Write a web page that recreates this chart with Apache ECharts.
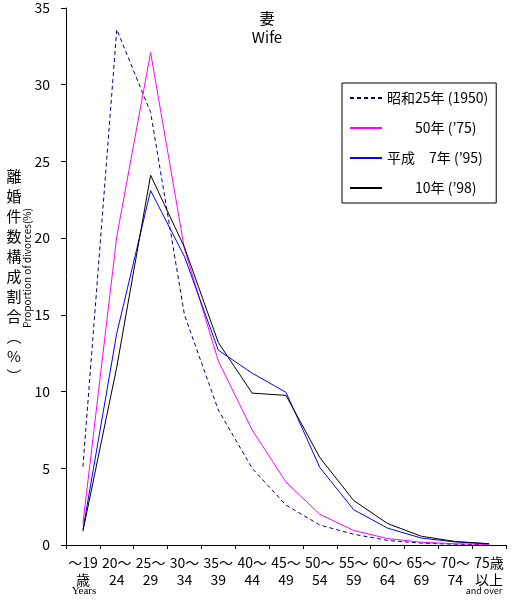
<!DOCTYPE html>
<html>
<head>
<meta charset="utf-8">
<script src="https://cdn.jsdelivr.net/npm/echarts@6/dist/echarts.min.js"></script>
<style>
html,body{margin:0;padding:0;background:#fff;}
#chart{width:518px;height:602px;}
</style>
</head>
<body>
<div id="chart"></div>
<script>
const categories = ['～19\n歳','20～\n24','25～\n29','30～\n34','35～\n39','40～\n44','45～\n49','50～\n54','55～\n59','60～\n64','65～\n69','70～\n74','75歳\n以上'];
const seriesNames = ['昭和25年 (1950)', '　　50年 (’75)', '平成　7年 (’95)', '　　10年 (’98)'];
const s1950 = [5.1, 33.6, 28.2, 15.0, 8.8, 5.0, 2.6, 1.3, 0.7, 0.3, 0.12, 0.05, 0.02];
const s1975 = [1.4, 20.1, 32.1, 19.3, 12.0, 7.5, 4.1, 2.0, 0.95, 0.42, 0.18, 0.08, 0.04];
const s1995 = [1.0, 13.8, 23.1, 18.8, 12.7, 11.2, 9.95, 5.05, 2.3, 1.1, 0.45, 0.2, 0.08];
const s1998 = [0.9, 11.6, 24.1, 19.4, 13.2, 9.9, 9.75, 5.7, 2.9, 1.4, 0.57, 0.23, 0.08];
const yTicks = [0, 5, 10, 15, 20, 25, 30, 35];

const FONT = '"Noto Sans CJK JP", "Noto Sans", sans-serif';
const chart = echarts.init(document.getElementById('chart'), null, {renderer: 'canvas'});

function mk(name, data, color, type) {
  return {
    name: name, type: 'line', data: data, symbol: 'none', smooth: false,
    lineStyle: {color: color, width: 1, type: type},
    itemStyle: {color: color},
    animation: false
  };
}

chart.setOption({
  animation: false,
  backgroundColor: '#fff',
  textStyle: {fontFamily: FONT, color: '#000'},
  title: {
    text: '妻', subtext: 'Wife', left: 262, top: 6, textAlign: 'center', itemGap: 4,
    textStyle: {fontFamily: FONT, fontSize: 15, fontWeight: 'normal', color: '#000'},
    subtextStyle: {fontFamily: FONT, fontSize: 15, color: '#000'}
  },
  legend: {
    orient: 'vertical', left: 342, top: 83,
    padding: [8, 8, 8, 7],
    borderColor: '#000', borderWidth: 1,
    itemWidth: 32, itemHeight: 14, itemGap: 16,
    itemStyle: {opacity: 0},
    textStyle: {fontFamily: FONT, fontSize: 14, color: '#000'},
    data: seriesNames
  },
  grid: {left: 66, right: 12, top: 8, bottom: 57, containLabel: false},
  xAxis: {
    type: 'category', data: categories, boundaryGap: true,
    axisLine: {lineStyle: {color: '#000', width: 1}},
    axisTick: {show: true, length: 4, lineStyle: {color: '#000'}, interval: 0},
    axisLabel: {interval: 0, fontFamily: FONT, fontSize: 14, lineHeight: 17, color: '#000', margin: 9}
  },
  yAxis: {
    type: 'value', min: yTicks[0], max: yTicks[yTicks.length - 1], interval: 5,
    name: '離\n婚\n件\n数\n構\n成\n割\n合\n︵\n%\n︶',
    nameLocation: 'middle', nameRotate: 0, nameGap: 52,
    nameTextStyle: {fontFamily: FONT, fontSize: 15, lineHeight: 20, align: 'center', verticalAlign: 'middle', color: '#000'},
    axisLine: {show: true, lineStyle: {color: '#000', width: 1}},
    axisTick: {show: true, length: 5, lineStyle: {color: '#000'}},
    splitLine: {show: false},
    axisLabel: {fontFamily: FONT, fontSize: 14, color: '#000', margin: 16}
  },
  graphic: [
    {type: 'text', x: 27, y: 268, rotation: Math.PI / 2,
     style: {text: 'Proportion of divorces(%)', fontFamily: FONT, fontSize: 10, fill: '#000', textAlign: 'center', textVerticalAlign: 'middle'}},
    {type: 'text', x: 84, y: 591,
     style: {text: 'Years', fontFamily: '"Liberation Serif", serif', fontSize: 11, fill: '#000', textAlign: 'center', textVerticalAlign: 'middle'}},
    {type: 'text', x: 484, y: 591,
     style: {text: 'and over', fontFamily: FONT, fontSize: 9, fill: '#000', textAlign: 'center', textVerticalAlign: 'middle'}}
  ],
  series: [
    mk(seriesNames[0], s1950, '#000080', [4, 3]),
    mk(seriesNames[1], s1975, '#ff00ff', 'solid'),
    mk(seriesNames[2], s1995, '#0000ff', 'solid'),
    mk(seriesNames[3], s1998, '#000000', 'solid')
  ]
});
</script>
</body>
</html>
